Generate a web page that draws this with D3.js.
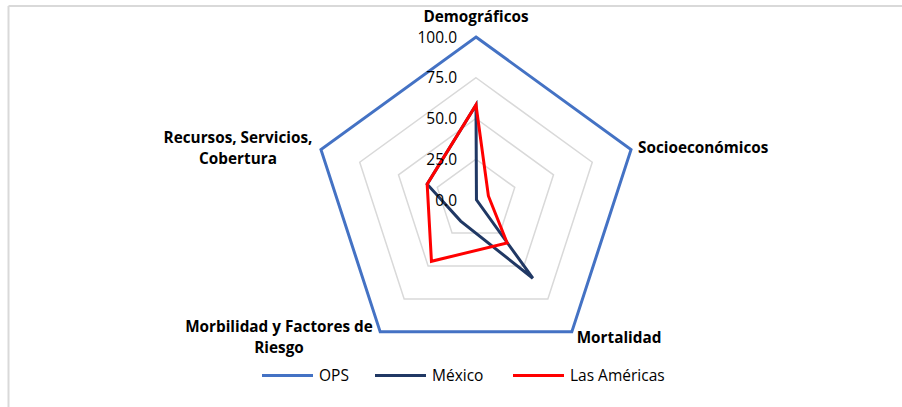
<!DOCTYPE html>
<html>
<head>
<meta charset="utf-8">
<script src="https://cdn.jsdelivr.net/npm/d3@7"></script>
<style>
  html, body { margin: 0; padding: 0; background: #fff; }
  svg { display: block; }
  text { font-family: "Open Sans", Lato, sans-serif; }
</style>
</head>
<body>
<svg id="chart" width="902" height="407"></svg>
<script>
// ---- data ----
const categories = ["Demográficos", "Socioeconómicos", "Mortalidad", "Morbilidad y Factores de Riesgo", "Recursos, Servicios, Cobertura"];
const seriesNames = ["OPS", "México", "Las Américas"];
const opsValues = [100, 100, 100, 100, 100];
const mexicoValues = [58.3, 0.3, 59.3, 16, 31.5];
const americasValues = [58.3, 8, 32.5, 46.5, 31.5];
const tickValues = [0, 25, 50, 75, 100];
const tickLabels = ["0.0", "25.0", "50.0", "75.0", "100.0"];
// label line breaks (display only)
const categoryLines = [["Demográficos"], ["Socioeconómicos"], ["Mortalidad"], ["Morbilidad y Factores de", "Riesgo"], ["Recursos, Servicios,", "Cobertura"]];

const seriesColors = ["#4472C4", "#203864", "#FF0000"];
const seriesData = [opsValues, mexicoValues, americasValues];

const svg = d3.select("#chart");
const cx = 476, cy = 200, R = 163;

// border (chart area frame)
svg.append("line").attr("x1", 8.5).attr("y1", 6).attr("x2", 902).attr("y2", 6)
  .attr("stroke", "#d9d9d9").attr("stroke-width", 2);
svg.append("line").attr("x1", 8.5).attr("y1", 6).attr("x2", 8.5).attr("y2", 407)
  .attr("stroke", "#d9d9d9").attr("stroke-width", 2);

const r = d3.scaleLinear().domain([0, 100]).range([0, R]);
const angle = d3.scaleLinear().domain([0, categories.length]).range([0, 2 * Math.PI]);

const radial = d3.lineRadial()
  .angle((d, i) => angle(i))
  .radius(d => r(d))
  .curve(d3.curveLinearClosed);

const g = svg.append("g").attr("transform", `translate(${cx},${cy})`);

// gridlines
g.selectAll("path.grid").data(tickValues.filter(v => v > 0)).enter()
  .append("path").attr("class", "grid")
  .attr("d", v => radial(categories.map(() => v)))
  .attr("fill", "none").attr("stroke", "#d9d9d9").attr("stroke-width", 1.5);

// series
seriesData.forEach((vals, si) => {
  g.append("path")
    .attr("d", radial(vals))
    .attr("fill", "none")
    .attr("stroke", seriesColors[si])
    .attr("stroke-width", 3)
    .attr("stroke-linejoin", "miter");
});

// tick labels
g.selectAll("text.tick").data(tickValues).enter()
  .append("text").attr("class", "tick")
  .attr("x", -19)
  .attr("y", v => -r(v))
  .attr("dy", "0.36em")
  .attr("text-anchor", "end")
  .attr("font-size", 15.5)
  .attr("fill", "#000")
  .text((v, i) => tickLabels[i]);

// category labels
const labelPos = [
  { x: 476, y: 22, anchor: "middle" },
  { x: 638, y: 153, anchor: "start" },
  { x: 619, y: 343, anchor: "middle" },
  { x: 279, y: 332, anchor: "middle" },
  { x: 238, y: 143, anchor: "middle" }
];
categoryLines.forEach((lines, i) => {
  const p = labelPos[i];
  const t = svg.append("text")
    .attr("x", p.x).attr("y", p.y)
    .attr("text-anchor", p.anchor)
    .attr("font-size", 15.3)
    .attr("font-weight", "bold")
    .attr("fill", "#000");
  lines.forEach((ln, j) => {
    t.append("tspan").attr("x", p.x).attr("dy", j === 0 ? 0 : 20.5).text(ln);
  });
});

// legend
const legendX = [262, 375, 513];
const legend = svg.append("g");
seriesNames.forEach((name, i) => {
  legend.append("line")
    .attr("x1", legendX[i]).attr("x2", legendX[i] + 51)
    .attr("y1", 375.5).attr("y2", 375.5)
    .attr("stroke", seriesColors[i]).attr("stroke-width", 3);
  legend.append("text")
    .attr("x", legendX[i] + 57).attr("y", 381)
    .attr("font-size", 15.5)
    .attr("fill", "#000")
    .text(name);
});
</script>
</body>
</html>
